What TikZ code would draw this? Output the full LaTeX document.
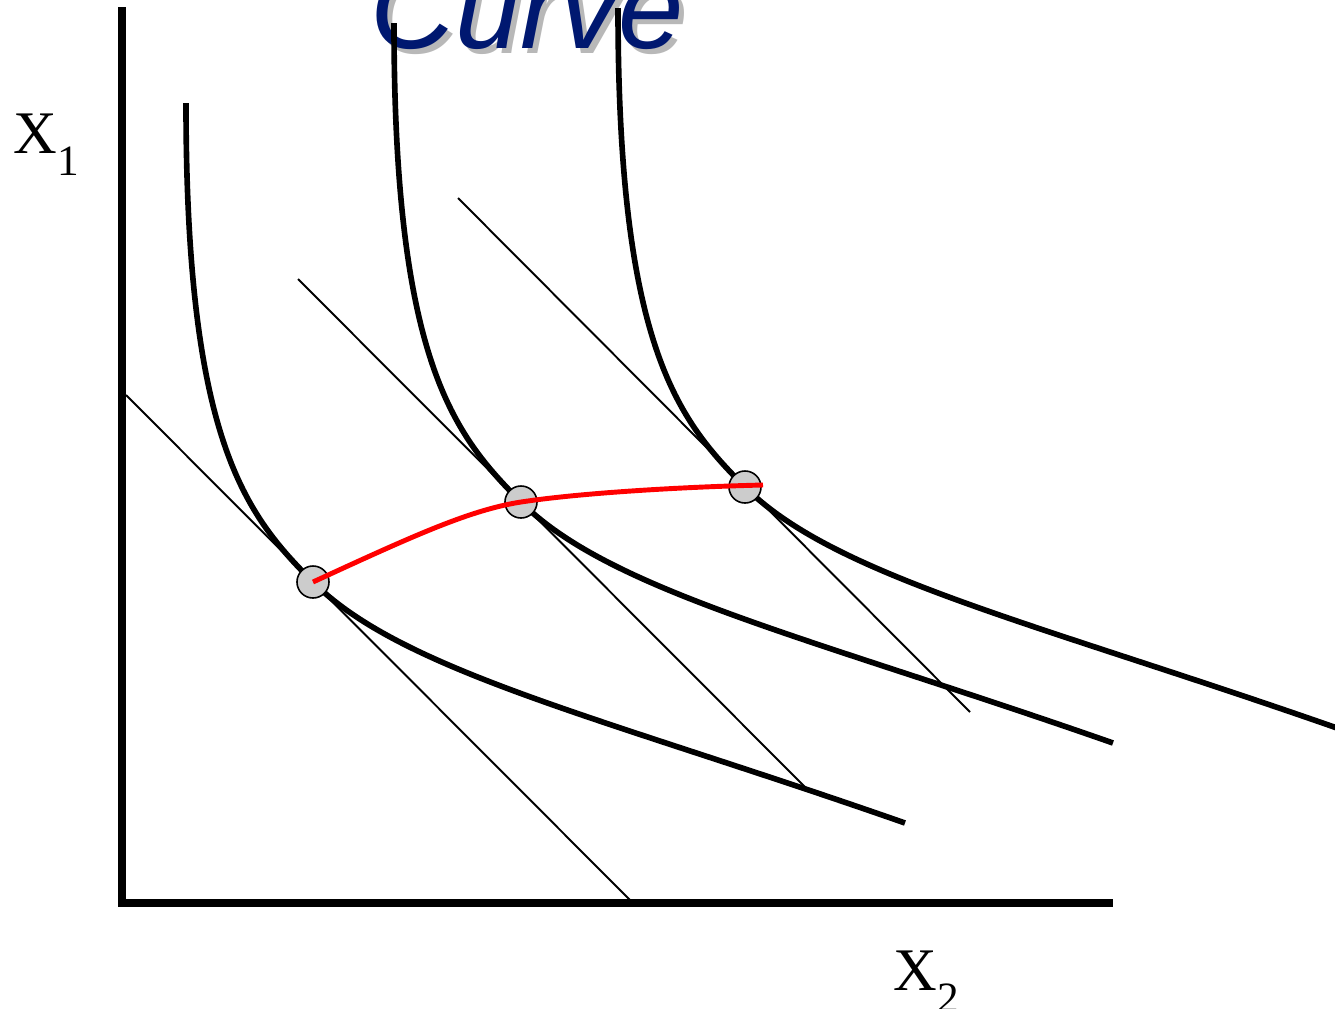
\documentclass[tikz,border=0pt]{standalone}
\usepackage{fontspec}
\setmainfont{Liberation Serif}
\newfontfamily\titlefont{Liberation Sans}
\usetikzlibrary{calc}
\definecolor{titleblue}{HTML}{001870}
\definecolor{shadowgray}{HTML}{B8B8B8}
\definecolor{dotgray}{HTML}{CCCCCC}
\tikzset{
  axis/.style={line width=2.1pt, line join=miter},
  icurve/.style={line width=1.6pt},
  budget/.style={line width=0.55pt},
  path/.style={red, line width=1.4pt},
  dot/.style={circle, draw, line width=0.45pt, fill=dotgray, minimum size=0.32cm, inner sep=0pt},
  lab/.style={inner sep=0pt, anchor=base west, font=\fontsize{17.2pt}{20pt}\selectfont},
  indiff/.pic={\draw[icurve] (-127,-479) .. controls (-127,-142) and (-68,-68) .. (0,0)
      .. controls (90,90) and (292,136) .. (592,241);}
}
\newcommand{\lowsub}[1]{\raisebox{-6.3pt}{\fontsize{12.3pt}{14pt}\selectfont #1}}
\begin{document}
\begin{tikzpicture}[x=0.01cm, y=-0.01cm]
\useasboundingbox (0,0) rectangle (1335,1008);
\clip (0,0) rectangle (1335,1008);
% title (cropped)
\node[inner sep=0pt, anchor=base west, text=shadowgray, font=\titlefont\itshape\fontsize{33.4pt}{38pt}\selectfont] (titleshadow) at (375,53) {Curve};
\node[inner sep=0pt, anchor=base west, text=titleblue, font=\titlefont\itshape\fontsize{33.4pt}{38pt}\selectfont] (title) at (370,48) {Curve};
% axes
\coordinate (O) at (122,903);
\coordinate (Ytop) at (122,7);
\coordinate (Xend) at (1113,903);
\draw[axis] (Ytop) -- (O) -- (Xend);
\node[lab] (x1) at (13,153) {X\lowsub{1}};
\node[lab] (x2) at (893,990) {X\lowsub{2}};
% tangency points
\coordinate (T1) at (313,582);
\coordinate (T2) at (521,502);
\coordinate (T3) at (745,487);
% budget lines
\coordinate (B1a) at (126,395); \coordinate (B1b) at (630,900);
\coordinate (B2a) at (298,279); \coordinate (B2b) at (808,790);
\coordinate (B3a) at (458,198); \coordinate (B3b) at (970,712);
\draw[budget] (B1a) -- (B1b);
\draw[budget] (B2a) -- (B2b);
\draw[budget] (B3a) -- (B3b);
% indifference curves
\pic at (T1) {indiff};
\pic at (T2) {indiff};
\pic at (T3) {indiff};
% equilibrium points
\node[dot] (E1) at (T1) {};
\node[dot] (E2) at (T2) {};
\node[dot] (E3) at (T3) {};
% income expansion path
\coordinate (Pend) at (763,485);
\draw[path] (E1.center) .. controls (415,535) and (470,510) .. (E2.center)
  .. controls (580,493) and (680,487) .. (Pend);
\end{tikzpicture}
\end{document}
